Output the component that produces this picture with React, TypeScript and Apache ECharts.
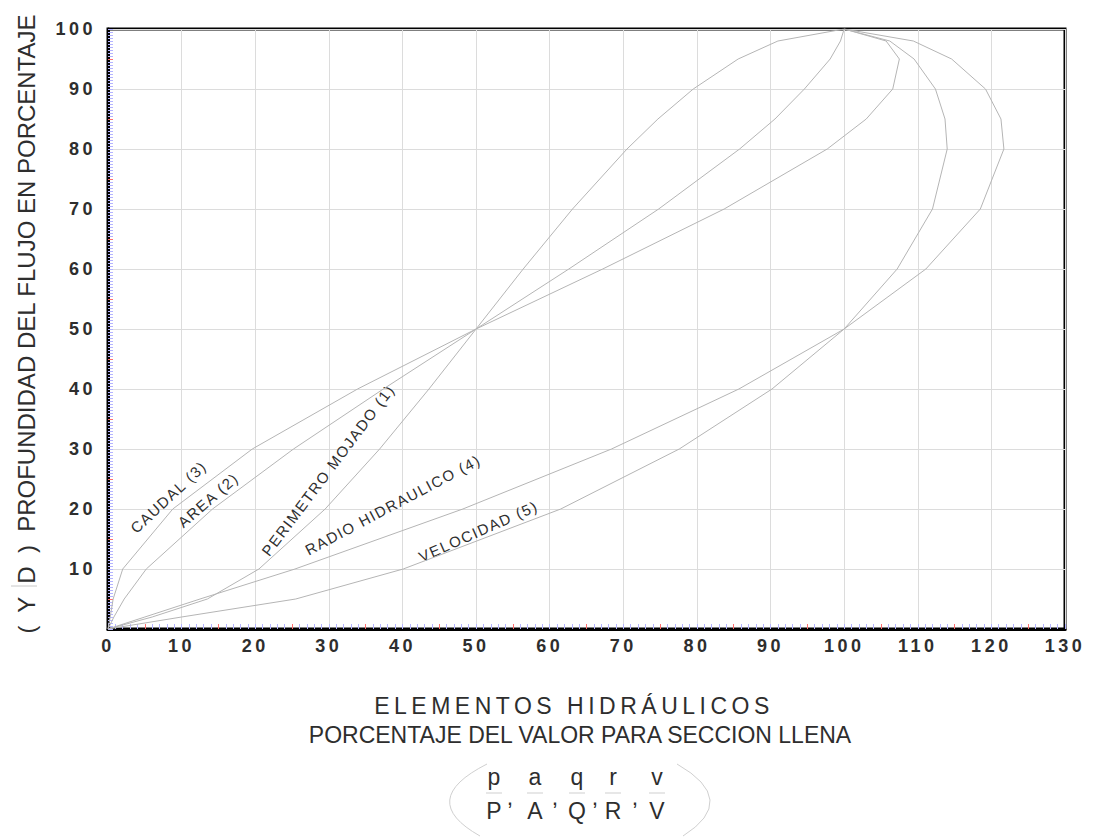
import React, { useEffect, useRef } from 'react';
import * as echarts from 'echarts';

// Depth of flow (% of diameter) at which each curve was read
const depthPct = [0, 2, 5, 10, 20, 30, 40, 50, 60, 70, 80, 85, 90, 95, 98, 100];
// Hydraulic elements (% of full-section value) read at those depths
const perimetroMojado = [0, 6, 13.5, 20.5, 29.5, 36.9, 43.6, 50, 56.4, 63.1, 70.5, 74.7, 79.5, 85.6, 91.0, 100];
const area = [0, 0.8, 2.2, 5.2, 14.2, 25.2, 37.4, 50, 62.6, 74.8, 85.8, 90.6, 94.6, 98.1, 99.5, 100];
const caudal = [0, 0.3, 0.7, 2.0, 8.8, 19.6, 33.9, 50, 67.2, 83.7, 97.7, 103.0, 106.6, 107.5, 105.7, 100];
const radioHidraulico = [0, 5, 12.5, 25.4, 48.2, 68.4, 85.7, 100, 111.1, 118.5, 121.7, 121.3, 119.2, 114.6, 109.4, 100];
const velocidad = [0, 10, 25.5, 40.1, 61.5, 77.6, 90.2, 100, 107.2, 112.0, 114.0, 113.7, 112.4, 109.5, 106.2, 100];

const curveNames = ['PERIMETRO MOJADO (1)', 'AREA (2)', 'CAUDAL (3)', 'RADIO HIDRAULICO (4)', 'VELOCIDAD (5)'];
const curveValues = [perimetroMojado, area, caudal, radioHidraulico, velocidad];

// Red tick positions (odd multiples of 5)
const redTicksX = [5, 15, 25, 35, 45, 55, 65, 75, 85, 95, 105, 115, 125];
const redTicksY = [5, 15, 25, 35, 45, 55, 65, 75, 85, 95];

const yTitle = '(  Y  D  )  PROFUNDIDAD DEL FLUJO EN PORCENTAJE';
const xTitle1 = 'ELEMENTOS HIDRÁULICOS';
const xTitle2 = 'PORCENTAJE DEL VALOR PARA SECCION LLENA';
const fracNum = ['p', 'a', 'q', 'r', 'v'];
const fracDen = ['P', 'A', 'Q', 'R', 'V'];

// Where each curve's name is written (data coordinates) and its slope
const curveLabelPlacement: Record<string, { x: number; y: number; angle: number }> = {
  'CAUDAL (3)': { x: 8.2, y: 22, angle: 43 },
  'AREA (2)': { x: 13.6, y: 21.5, angle: 41 },
  'PERIMETRO MOJADO (1)': { x: 29.9, y: 26.5, angle: 53 },
  'RADIO HIDRAULICO (4)': { x: 38.7, y: 20.7, angle: 28 },
  'VELOCIDAD (5)': { x: 50.3, y: 16.3, angle: 24 },
};

const TEXT = '#2e2e2e';
const GRID = { left: 108, top: 29, width: 957, height: 600 };

export default function App() {
  const ref = useRef<HTMLDivElement>(null);

  useEffect(() => {
    const el = ref.current!;
    const chart = echarts.init(el, null, { renderer: 'svg' });

    const series = curveNames.map((name, i) => ({
      name,
      type: 'line',
      xAxisIndex: 0,
      yAxisIndex: 0,
      data: depthPct.map((d, k) => [curveValues[i][k], d]),
      showSymbol: false,
      smooth: false,
      lineStyle: { color: '#b5b5b5', width: 1 },
      silent: true,
    }));

    const tickLabel = { color: TEXT, fontFamily: 'Arial', fontWeight: 'bold', fontSize: 18 };
    const minorBlue = '#b4b4ff';

    const option: any = {
      animation: false,
      backgroundColor: '#fff',
      grid: { ...GRID, show: true, borderColor: '#000', borderWidth: 3 },
      xAxis: [
        {
          type: 'value', min: 0, max: 130, interval: 10, position: 'bottom',
          axisLine: { show: true, lineStyle: { color: '#000', width: 3 } },
          axisTick: { show: true, inside: true, length: 5, lineStyle: { color: minorBlue } },
          minorTick: { show: true, splitNumber: 10, length: 5, lineStyle: { color: minorBlue } },
          axisLabel: { ...tickLabel, margin: 8 },
          splitLine: { show: true, lineStyle: { color: '#dcdcdc', width: 1 } },
        },
        {
          type: 'value', min: 0, max: 130, position: 'bottom',
          axisLine: { show: false },
          axisLabel: { show: false },
          splitLine: { show: false },
          axisTick: { show: true, inside: true, length: 5, customValues: redTicksX, lineStyle: { color: '#ff7070' } },
        },
      ],
      yAxis: [
        {
          type: 'value', min: 0, max: 100, interval: 10, position: 'left',
          axisLine: { show: true, lineStyle: { color: '#000', width: 3 } },
          axisTick: { show: true, inside: true, length: 5, lineStyle: { color: minorBlue } },
          minorTick: { show: true, splitNumber: 20, length: 5, lineStyle: { color: minorBlue } },
          axisLabel: { ...tickLabel, margin: 12, showMinLabel: false },
          splitLine: { show: true, lineStyle: { color: '#dcdcdc', width: 1 } },
        },
        {
          type: 'value', min: 0, max: 100, position: 'left',
          axisLine: { show: false },
          axisLabel: { show: false },
          splitLine: { show: false },
          axisTick: { show: true, inside: true, length: 5, customValues: redTicksY, lineStyle: { color: '#ff7070' } },
        },
      ],
      series,
    };

    chart.setOption(option);

    const graphics: any[] = [];
    curveNames.forEach((name) => {
      const p = curveLabelPlacement[name];
      const [px, py] = chart.convertToPixel({ gridIndex: 0 }, [p.x, p.y]) as number[];
      graphics.push({
        type: 'text', x: px, y: py, rotation: (p.angle * Math.PI) / 180, silent: true,
        style: { text: name, font: '15px Arial', fill: TEXT, align: 'center', verticalAlign: 'middle' },
      });
    });

    // Y-axis title (vertical)
    graphics.push({
      type: 'text', x: 26, y: 324, rotation: Math.PI / 2, silent: true,
      style: { text: yTitle, font: '24px Arial', fill: TEXT, align: 'center', verticalAlign: 'middle' },
    });
    graphics.push({ type: 'line', silent: true, shape: { x1: 11, y1: 586, x2: 37, y2: 586 }, style: { stroke: '#c8c8c8', lineWidth: 1 } });

    // X-axis title lines
    graphics.push({
      type: 'text', x: 574, y: 706, silent: true,
      style: { text: xTitle1, font: '23px Arial', fill: TEXT, align: 'center', verticalAlign: 'middle' },
    });
    graphics.push({
      type: 'text', x: 580, y: 735, silent: true,
      style: { text: xTitle2, font: '23px Arial', fill: TEXT, align: 'center', verticalAlign: 'middle' },
    });

    // Fractions p/P, a/A, q/Q, r/R, v/V
    const fracX = [494, 535, 577, 613, 657];
    const commaX = [510, 555, 595, 635];
    fracNum.forEach((t, i) => {
      graphics.push({ type: 'text', x: fracX[i], y: 777, silent: true, style: { text: t, font: '23px Arial', fill: TEXT, align: 'center', verticalAlign: 'middle' } });
      graphics.push({ type: 'text', x: fracX[i], y: 811, silent: true, style: { text: fracDen[i], font: '23px Arial', fill: TEXT, align: 'center', verticalAlign: 'middle' } });
      graphics.push({ type: 'line', silent: true, shape: { x1: fracX[i] - 8, y1: 793, x2: fracX[i] + 8, y2: 793 }, style: { stroke: '#cfcfcf', lineWidth: 1 } });
    });
    commaX.forEach((cx) => {
      graphics.push({ type: 'text', x: cx, y: 797, silent: true, style: { text: ',', font: '23px Arial', fill: TEXT, align: 'center', verticalAlign: 'middle' } });
    });
    graphics.push({ type: 'bezierCurve', silent: true, shape: { x1: 487, y1: 764, x2: 480, y2: 836, cpx1: 416, cpy1: 800 }, style: { stroke: '#d0d0d0', lineWidth: 1, fill: 'none' } });
    graphics.push({ type: 'bezierCurve', silent: true, shape: { x1: 677, y1: 764, x2: 683, y2: 836, cpx1: 740, cpy1: 800 }, style: { stroke: '#d0d0d0', lineWidth: 1, fill: 'none' } });

    chart.setOption({ graphic: graphics });

    const spacingFor = (s: string): number => {
      if (/^\d+$/.test(s)) return 3.5;
      if (s === xTitle1) return 4.5;
      if (curveNames.includes(s)) return 1.5;
      return 0;
    };
    const applySpacing = () => {
      el.querySelectorAll('text').forEach((t) => {
        const sp = spacingFor((t.textContent || '').trim());
        if (sp) (t as SVGTextElement).style.letterSpacing = sp + 'px';
      });
    };
    applySpacing();
    chart.on('rendered', applySpacing);
    const raf = requestAnimationFrame(applySpacing);
    const tm = setTimeout(applySpacing, 50);

    return () => {
      cancelAnimationFrame(raf);
      clearTimeout(tm);
      chart.dispose();
    };
  }, []);

  return <div ref={ref} style={{ position: 'fixed', left: 0, top: 0, width: 1094, height: 837, background: '#fff' }} />;
}
